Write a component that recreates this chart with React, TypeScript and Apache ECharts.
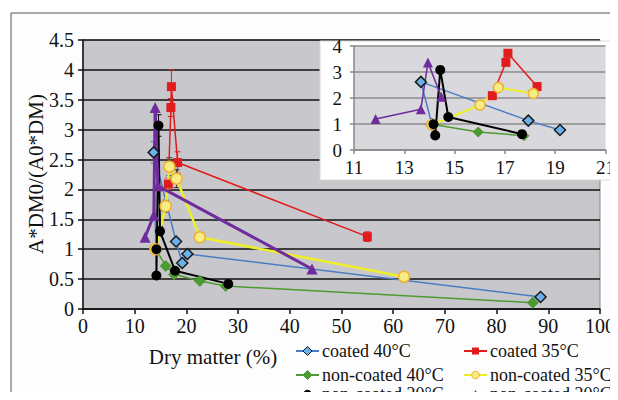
import React, { useEffect, useRef } from "react";
import * as echarts from "echarts";

// ---- main chart data ----
const blueX = [14.1, 13.66, 18.0, 19.2, 20.2, 88.5];
const blueY = [1.0, 2.62, 1.13, 0.77, 0.92, 0.2];
const greenX = [14.1, 16.0, 17.6, 22.6, 27.6, 87.0];
const greenY = [1.0, 0.72, 0.58, 0.47, 0.385, 0.105];
const redX = [16.5, 17.0, 17.1, 18.3, 55.0];
const redY = [2.09, 3.37, 3.72, 2.45, 1.21];
const redErr = [0.1, 0.15, 0.28, 0.18, 0.08];
const yellowX = [14.0, 16.0, 16.7, 18.1, 22.6, 62.1];
const yellowY = [1.0, 1.72, 2.38, 2.18, 1.2, 0.54];
const yellowErr = [0.05, 0.1, 0.15, 0.15, 0.07, 0.04];
const blackX = [14.2, 14.2, 14.6, 14.9, 17.8, 28.1];
const blackY = [1.0, 0.56, 3.07, 1.3, 0.64, 0.42];
const blackErr = [0.05, 0.05, 0.18, 0.08, 0.05, 0.04];
const purpleX = [12.0, 13.7, 13.95, 14.5, 44.3];
const purpleY = [1.2, 1.57, 3.37, 2.06, 0.67];
const blueErr = [0.05, 0.18, 0.06, 0.05, 0.05, 0.03];

// ---- inset data ----
const inBlueX = [14.1, 13.66, 17.93, 19.19];
const inBlueY = [0.98, 2.62, 1.13, 0.77];
const inGreenX = [14.15, 15.94, 17.76];
const inGreenY = [0.98, 0.69, 0.55];
const inBlackX = [14.16, 14.23, 14.43, 14.75, 17.68];
const inBlackY = [0.99, 0.56, 3.08, 1.27, 0.61];
const inRedX = [16.5, 17.04, 17.12, 18.28];
const inRedY = [2.09, 3.37, 3.72, 2.44];
const inYellowX = [14.09, 16.01, 16.74, 18.13];
const inYellowY = [0.97, 1.73, 2.4, 2.17];
const inPurpleX = [11.86, 13.66, 13.94, 14.47];
const inPurpleY = [1.19, 1.57, 3.37, 2.05];

const legendNames = [
  "coated 40°C",
  "coated 35°C",
  "non-coated 40°C",
  "non-coated 35°C",
  "non-coated 20°C",
  "non-coated 20°C",
];

const C = {
  blue: "#4a7cc4",
  blueFill: "#6cb2ea",
  green: "#4e9a32",
  red: "#e01c1c",
  yellow: "#eeee2a",
  yellowFill: "#f6ee84",
  yellowBorder: "#f0b034",
  black: "#000000",
  purple: "#6e2c9c",
};

const FONT = "'Liberation Serif', 'Times New Roman', Times, serif";

const zip = (xs: number[], ys: number[]) => xs.map((x, i) => [x, ys[i]]);
const zip3 = (xs: number[], ys: number[], es: number[]) => xs.map((x, i) => [x, ys[i], es[i]]);

function errSeries(data: number[][], color: string) {
  return {
    type: "custom",
    xAxisIndex: 0,
    yAxisIndex: 0,
    z: 1,
    silent: true,
    data,
    renderItem: (params: any, api: any) => {
      const x = api.value(0);
      const y = api.value(1);
      const e = api.value(2);
      const t = api.coord([x, y + e]);
      const b = api.coord([x, y - e]);
      const hw = 3;
      const st = { stroke: color, lineWidth: 1 };
      return {
        type: "group",
        children: [
          { type: "line", shape: { x1: t[0], y1: t[1], x2: b[0], y2: b[1] }, style: st },
          { type: "line", shape: { x1: t[0] - hw, y1: t[1], x2: t[0] + hw, y2: t[1] }, style: st },
          { type: "line", shape: { x1: b[0] - hw, y1: b[1], x2: b[0] + hw, y2: b[1] }, style: st },
        ],
      };
    },
  };
}

function lineSeries(
  data: number[][],
  color: string,
  width: number,
  symbol: string,
  size: number,
  itemStyle: any,
  axis: number,
  z: number
) {
  return {
    type: "line",
    xAxisIndex: axis,
    yAxisIndex: axis,
    data,
    z,
    symbol,
    symbolSize: size,
    showAllSymbol: true,
    clip: true,
    lineStyle: { color, width },
    itemStyle,
    emphasis: { disabled: true },
  };
}

function legendItem(x: number, y: number, color: string, kind: string, label: string, fill: string, border: string) {
  const children: any[] = [
    { type: "line", shape: { x1: x, y1: y, x2: x + 23, y2: y }, style: { stroke: color, lineWidth: 2 } },
  ];
  const cx = x + 11.5;
  if (kind === "diamond") {
    children.push({
      type: "polygon",
      shape: { points: [[cx, y - 4.5], [cx + 4.5, y], [cx, y + 4.5], [cx - 4.5, y]] },
      style: { fill, stroke: border, lineWidth: 1 },
    });
  } else if (kind === "rect") {
    children.push({ type: "rect", shape: { x: cx - 3.5, y: y - 3.5, width: 7, height: 7 }, style: { fill } });
  } else if (kind === "circle") {
    children.push({ type: "circle", shape: { cx, cy: y, r: 3.8 }, style: { fill, stroke: border, lineWidth: 1 } });
  } else if (kind === "triangle") {
    children.push({
      type: "polygon",
      shape: { points: [[cx, y - 4], [cx + 4, y + 3], [cx - 4, y + 3]] },
      style: { fill },
    });
  }
  children.push({
    type: "text",
    x: x + 26,
    y,
    style: { text: label, fontFamily: FONT, fontSize: 18, fill: "#111", verticalAlign: "middle", align: "left" },
  });
  return { type: "group", z: 20, children };
}

export default function App() {
  const ref = useRef<HTMLDivElement>(null);
  useEffect(() => {
    if (!ref.current) return;
    const chart = echarts.init(ref.current, null, { renderer: "svg" });
    const axisLabel = { fontFamily: FONT, fontSize: 20, color: "#111" };
    const inLabel = { fontFamily: FONT, fontSize: 19, color: "#111" };

    const blueItem = { color: C.blueFill, borderColor: "#1a1a1a", borderWidth: 1.5 };
    const greenItem = { color: C.green, borderColor: C.green, borderWidth: 1 };
    const redItem = { color: C.red, borderColor: C.red, borderWidth: 0 };
    const yellowItem = { color: C.yellowFill, borderColor: C.yellowBorder, borderWidth: 1.5 };
    const blackItem = { color: "#000", borderColor: "#000", borderWidth: 0 };
    const purpleItem = { color: C.purple, borderColor: C.purple, borderWidth: 0 };

    const option: any = {
      animation: false,
      textStyle: { fontFamily: FONT },
      grid: [
        {
          left: 83,
          top: 40,
          right: 18,
          bottom: 91,
          show: true,
          backgroundColor: "#c8c8cc",
          borderColor: "#8a8a8a",
          borderWidth: 1,
        },
        {
          left: 354,
          top: 46,
          right: 12,
          bottom: 250,
          show: true,
          backgroundColor: "#d9d8dc",
          borderColor: "#e8e8e8",
          borderWidth: 1,
          z: 8,
        },
      ],
      xAxis: [
        {
          type: "value",
          gridIndex: 0,
          min: 0,
          max: 100,
          interval: 10,
          axisLine: { show: true, onZero: false, lineStyle: { color: "#111", width: 1.5 } },
          axisTick: { show: true, length: 5, lineStyle: { color: "#111", width: 1.5 } },
          axisLabel: { ...axisLabel, margin: 7 },
          splitLine: { show: false },
        },
        {
          type: "value",
          gridIndex: 1,
          min: 11,
          max: 21,
          interval: 2,
          z: 9,
          axisLine: { show: true, onZero: false, lineStyle: { color: "#888", width: 1.5 } },
          axisTick: { show: true, length: 4, lineStyle: { color: "#888", width: 1.5 } },
          axisLabel: { ...inLabel, margin: 8 },
          splitLine: { show: false },
        },
      ],
      yAxis: [
        {
          type: "value",
          gridIndex: 0,
          min: 0,
          max: 4.5,
          interval: 0.5,
          axisLine: { show: true, lineStyle: { color: "#111", width: 1.5 } },
          axisTick: { show: true, length: 5, lineStyle: { color: "#111", width: 1.5 } },
          axisLabel: { ...axisLabel, margin: 9 },
          splitLine: { show: true, lineStyle: { color: "#111", width: 1.5 } },
        },
        {
          type: "value",
          gridIndex: 1,
          min: 0,
          max: 4,
          interval: 1,
          z: 9,
          axisLine: { show: true, lineStyle: { color: "#888", width: 1.5 } },
          axisTick: { show: true, length: 4, lineStyle: { color: "#888", width: 1.5 } },
          axisLabel: { ...inLabel, margin: 12 },
          splitLine: { show: true, lineStyle: { color: "#8c8c8c", width: 1.5 } },
        },
      ],
      graphic: [
        {
          type: "rect",
          z: -100,
          shape: { x: 11, y: 13, width: 700, height: 500 },
          style: { fill: "#fdfdfd", stroke: "#555", lineWidth: 1 },
        },
        {
          type: "rect",
          z: 5,
          shape: { x: 320, y: 41, width: 310, height: 139 },
          style: { fill: "#ffffff", stroke: "#d8d8d8", lineWidth: 1 },
        },
        {
          type: "text",
          z: 20,
          x: 36,
          y: 174,
          rotation: Math.PI / 2,
          style: {
            text: "A*DM0/(A0*DM)",
            fontFamily: FONT,
            fontSize: 21,
            fill: "#111",
            align: "center",
            verticalAlign: "middle",
          },
        },
        {
          type: "text",
          z: 20,
          x: 213,
          y: 357,
          style: {
            text: "Dry matter (%)",
            fontFamily: FONT,
            fontSize: 21,
            fill: "#111",
            align: "center",
            verticalAlign: "middle",
          },
        },
        legendItem(296, 351, C.blue, "diamond", legendNames[0], C.blueFill, "#111"),
        legendItem(464, 351, C.red, "rect", legendNames[1], C.red, C.red),
        legendItem(296, 375, C.green, "diamond", legendNames[2], C.green, C.green),
        legendItem(464, 375, C.yellow, "circle", legendNames[3], C.yellowFill, C.yellowBorder),
        legendItem(296, 394, C.black, "circle", legendNames[4], "#000", "#000"),
        legendItem(464, 394, C.purple, "triangle", legendNames[5], C.purple, C.purple),
      ],
      series: [
        errSeries(zip3(blueX, blueY, blueErr), C.blue),
        errSeries(zip3(redX, redY, redErr), C.red),
        errSeries(zip3(yellowX, yellowY, yellowErr), "#333"),
        errSeries(zip3(blackX, blackY, blackErr), "#000"),
        lineSeries(zip(blueX, blueY), C.blue, 1.5, "diamond", 11, blueItem, 0, 2),
        lineSeries(zip(greenX, greenY), C.green, 1.5, "diamond", 11, greenItem, 0, 2),
        lineSeries(zip(redX, redY), C.red, 1.5, "rect", 9, redItem, 0, 2),
        lineSeries(zip(yellowX, yellowY), C.yellow, 2.5, "circle", 11, yellowItem, 0, 2),
        lineSeries(zip(blackX, blackY), C.black, 2, "circle", 10, blackItem, 0, 2),
        lineSeries(zip(purpleX, purpleY), C.purple, 3, "triangle", 11, purpleItem, 0, 2),
        lineSeries(zip(inBlueX, inBlueY), C.blue, 1.5, "diamond", 11, blueItem, 1, 12),
        lineSeries(zip(inGreenX, inGreenY), C.green, 1.5, "diamond", 10, greenItem, 1, 12),
        lineSeries(zip(inRedX, inRedY), C.red, 1.5, "rect", 9, redItem, 1, 12),
        lineSeries(zip(inYellowX, inYellowY), C.yellow, 2, "circle", 10, yellowItem, 1, 12),
        lineSeries(zip(inBlackX, inBlackY), C.black, 2, "circle", 10, blackItem, 1, 12),
        lineSeries(zip(inPurpleX, inPurpleY), C.purple, 1.5, "triangle", 10, purpleItem, 1, 12),
      ],
    };
    chart.setOption(option);
    return () => chart.dispose();
  }, []);
  return <div ref={ref} style={{ width: 618, height: 400, margin: -8 }} />;
}
